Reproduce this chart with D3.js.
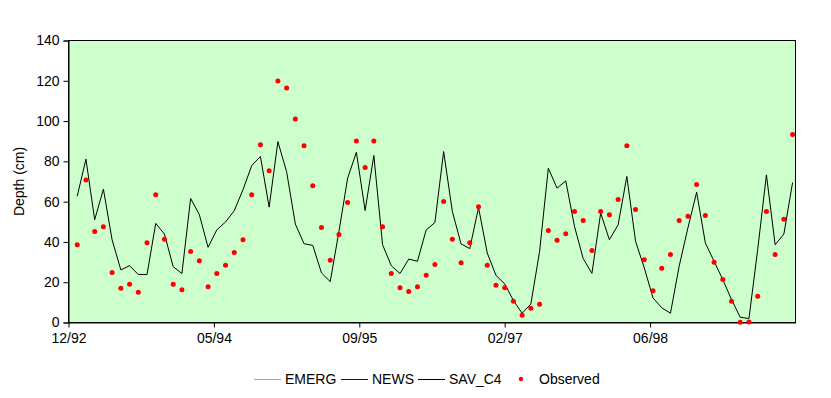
<!DOCTYPE html>
<html>
<head>
<meta charset="utf-8">
<script src="https://cdn.jsdelivr.net/npm/d3@7"></script>
<style>
  body { margin: 0; background: #fff; }
  text { font-family: "Liberation Sans", Arial, sans-serif; fill: #000; }
</style>
</head>
<body>
<div id="chart"></div>
<script>
// Samples are roughly 30 days apart, axis ticks every 500 days
var tickLabels = ["12/92", "05/94", "09/95", "02/97", "06/98"];
var yTicks = [0, 20, 40, 60, 80, 100, 120, 140];

// SAV_C4 modelled depth (cm), one value per sample
var savC4 = [62.7, 81.1, 51, 66.2, 41, 26.1, 28.2, 23.8, 23.8, 49.2,
  43.9, 27.7, 24.3, 61.6, 53.5, 37.3, 46, 49.9, 55.5, 65.9,
  77.9, 82.4, 57.3, 89.8, 74.9, 48.9, 39.1, 38.3, 24.6, 20.3,
  45.2, 71.7, 84.5, 55.6, 82.9, 38.6, 28.2, 24.3, 31.5, 30.4,
  46, 49.6, 84.9, 55.1, 39, 36.7, 57.1, 34.5, 23.4, 19.2,
  10.9, 4.6, 9.2, 35.3, 76.6, 66.7, 70.3, 47.7, 31.7, 24.4,
  54.3, 41.1, 48.5, 72.5, 40.3, 27.1, 12.2, 7.3, 4.6, 28,
  46.9, 64.7, 39.5, 30.4, 21.3, 11.4, 2.6, 2, 36.2, 73.3,
  38.6, 43.9, 69.5];

// Observed depth (cm)
var observed = [38.6, 70.8, 45.2, 47.5, 24.8, 17, 19, 15, 39.6, 63.4,
  41.3, 19, 16.3, 35.2, 30.7, 17.8, 24.3, 28.4, 34.7, 41.1,
  63.4, 88.3, 75.3, 119.9, 116.4, 101, 87.7, 67.9, 47.2, 30.9,
  43.7, 59.6, 90.1, 76.9, 90.1, 47.5, 24.3, 17.3, 15.4, 17.8,
  23.4, 28.8, 60.1, 41.3, 29.7, 39.6, 57.5, 28.4, 18.5, 17.3,
  10.6, 3.6, 7.1, 9.1, 45.7, 40.8, 44.1, 55.1, 50.7, 35.8,
  55.1, 53.5, 61.1, 87.8, 56.1, 31.2, 15.8, 26.9, 33.7, 50.7,
  52.7, 68.5, 53.1, 29.9, 21.3, 10.6, 0.1, 0.2, 13, 55.1,
  33.8, 51.2, 93.3];

var legendItems = [
  { name: "EMERG", color: "#99cc00", type: "line" },
  { name: "NEWS", color: "#0000cc", type: "line" },
  { name: "SAV_C4", color: "#000000", type: "line" },
  { name: "Observed", color: "#ff0000", type: "dot" }
];

var width = 831, height = 398;
var margin = { top: 40.5, right: 35.5, bottom: 75.5, left: 68.5 };
var innerW = width - margin.left - margin.right;
var innerH = height - margin.top - margin.bottom;
var fontSize = "14px";

var svg = d3.select("#chart")
  .append("svg")
  .attr("width", width)
  .attr("height", height);

var g = svg.append("g")
  .attr("transform", "translate(" + margin.left + "," + margin.top + ")");

// axis runs one sample before the first point to 2500 days after that
var step = 500 / 30;
var x = d3.scaleLinear()
  .domain([-1, -1 + 5 * step])
  .range([0, innerW]);

var y = d3.scaleLinear()
  .domain([0, 140])
  .range([innerH, 0]);

// plot area
g.append("rect")
  .attr("width", innerW)
  .attr("height", innerH)
  .attr("fill", "#ccffcc")
  .attr("stroke", "#000")
  .attr("stroke-width", 1);

// SAV_C4 line
var line = d3.line()
  .x(function(d, i) { return x(i); })
  .y(function(d) { return y(d); });

g.append("path")
  .datum(savC4)
  .attr("fill", "none")
  .attr("stroke", "#000")
  .attr("stroke-width", 1)
  .attr("d", line);

// y axis
var yAxis = g.append("g")
  .call(d3.axisLeft(y).tickValues(yTicks).tickSize(5).tickPadding(4));
yAxis.select(".domain").attr("stroke", "#000");
yAxis.selectAll("text")
  .style("font-family", "'Liberation Sans', Arial, sans-serif")
  .style("font-size", fontSize);

// x axis
var xAxis = g.append("g")
  .attr("transform", "translate(0," + innerH + ")")
  .call(d3.axisBottom(x)
    .tickValues(tickLabels.map(function(d, i) { return -1 + i * step; }))
    .tickFormat(function(d, i) { return tickLabels[i]; })
    .tickSize(5)
    .tickPadding(6)
    .tickSizeOuter(0));
xAxis.selectAll("text")
  .style("font-family", "'Liberation Sans', Arial, sans-serif")
  .style("font-size", fontSize);

// observed points
g.append("g")
  .selectAll("circle")
  .data(observed)
  .enter()
  .append("circle")
  .attr("cx", function(d, i) { return x(i); })
  .attr("cy", function(d) { return y(d); })
  .attr("r", 2.5)
  .attr("fill", "#ff0000");

// y axis title
svg.append("text")
  .attr("transform", "translate(24," + (margin.top + innerH / 2) + ") rotate(-90)")
  .attr("text-anchor", "middle")
  .style("font-size", fontSize)
  .text("Depth (cm)");

// legend
var legendX = [254, 341, 418, 521];
var legend = svg.append("g").attr("transform", "translate(0,379)");
legendItems.forEach(function(item, i) {
  var lg = legend.append("g").attr("transform", "translate(" + legendX[i] + ",0)");
  if (item.type === "line") {
    lg.append("line")
      .attr("x1", 0).attr("x2", 27)
      .attr("y1", 0.5).attr("y2", 0.5)
      .attr("stroke", item.color)
      .attr("stroke-width", 1);
    lg.append("text")
      .attr("x", 31)
      .attr("dy", "0.35em")
      .style("font-size", fontSize)
      .text(item.name);
  } else {
    lg.append("circle")
      .attr("r", 2.2)
      .attr("fill", item.color);
    lg.append("text")
      .attr("x", 18)
      .attr("dy", "0.35em")
      .style("font-size", fontSize)
      .text(item.name);
  }
});
</script>
</body>
</html>
